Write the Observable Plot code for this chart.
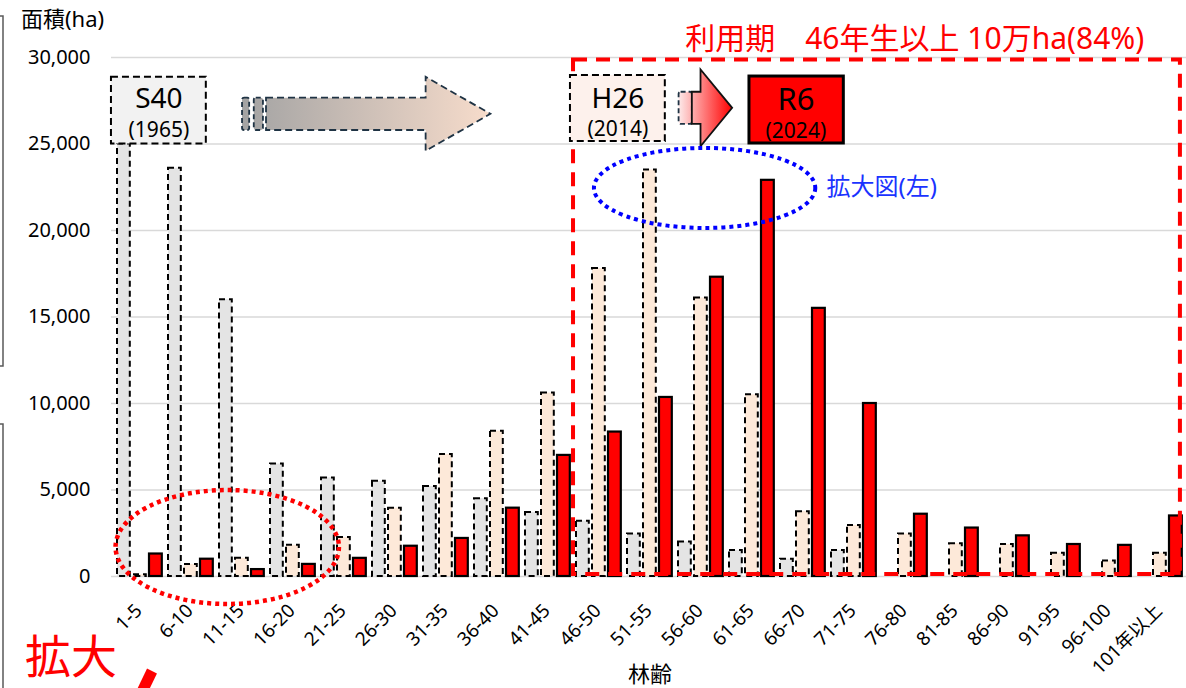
<!DOCTYPE html>
<html><head><meta charset="utf-8">
<script src="https://cdn.jsdelivr.net/npm/d3@7"></script>
<script src="https://cdn.jsdelivr.net/npm/@observablehq/plot@0.6"></script>
<style>
html,body{margin:0;padding:0;background:#fff;}
#chart{position:relative;width:1186px;height:688px;overflow:hidden;}
</style></head><body><div id="chart"></div>
<script>
const categories = ["1-5","6-10","11-15","16-20","21-25","26-30","31-35","36-40","41-45","46-50","51-55","56-60","61-65","66-70","71-75","76-80","81-85","86-90","91-95","96-100","101年以上"];
const s40 = [25000,23600,16000,6500,5700,5500,5200,4500,3700,3200,2450,2000,1500,1000,1500,0,0,0,0,0,0];
const h26 = [100,700,1050,1800,2250,3950,7050,8400,10600,17800,23500,16100,10500,3750,2950,2450,1900,1850,1350,900,1350];
const r6 = [1300,1000,400,700,1050,1750,2200,3950,7000,8350,10350,17300,22900,15500,10000,3600,2800,2350,1850,1800,3500];
const yTicks = [0,5000,10000,15000,20000,25000,30000];
const seriesLabels = [["S40","(1965)"],["H26","(2014)"],["R6","(2024)"]];
const headline = "利用期　46年生以上 10万ha(84%)";
const yTitle = "面積(ha)";
const xTitle = "林齢";
const zoomNote = "拡大図(左)";
const zoomWord = "拡大";

const FONT = "'Noto Sans','Noto Sans CJK JP',sans-serif";
const rows = (vals) => categories.map((c, i) => ({cat: c, value: vals[i]})).filter(d => d.value > 0);

const chart = Plot.plot({
  width: 1186, height: 688,
  marginLeft: 111, marginRight: 0, marginTop: 57, marginBottom: 112,
  style: {fontFamily: FONT, fontSize: "19px", color: "#000", background: "#fff"},
  x: {type: "band", domain: categories, padding: 0, label: null},
  y: {domain: [0, 30000], label: null},
  marks: [
    Plot.gridY(yTicks, {stroke: "#d9d9d9", strokeOpacity: 1, strokeWidth: 1.6}),
    Plot.barY(rows(s40), {x: "cat", y: "value", fill: "#e4e4e4", stroke: "#000", strokeWidth: 2, strokeDasharray: "6,4", insetLeft: 4, insetRight: 34.2}),
    Plot.barY(rows(h26), {x: "cat", y: "value", fill: "#fde9d9", stroke: "#000", strokeWidth: 2, strokeDasharray: "6,4", insetLeft: 20, insetRight: 18.2}),
    Plot.barY(rows(r6), {x: "cat", y: "value", fill: "#ff0000", stroke: "#000", strokeWidth: 2.2, insetLeft: 36, insetRight: 2.2}),
    Plot.axisY(yTicks, {tickSize: 0, tickPadding: 21, tickFormat: d3.format(","), fontSize: 20, label: null}),
    Plot.axisX({tickRotate: -45, tickSize: 0, tickPadding: 31, fontSize: 19, label: null})
  ]
});
document.getElementById("chart").appendChild(chart);

// annotations positioned through the chart's own scales
const sx = chart.scale("x"), sy = chart.scale("y");
const bw = sx.bandwidth, x0 = sx.apply(categories[0]);
const X = p => x0 + p * bw;
const Y = v => sy.apply(v);
const svg = d3.select(chart);
const defs = svg.append("defs");
const g1 = defs.append("linearGradient").attr("id", "ga1").attr("gradientUnits", "userSpaceOnUse")
  .attr("x1", X(2.53)).attr("x2", X(7.4)).attr("y1", 0).attr("y2", 0);
g1.append("stop").attr("offset", 0).attr("stop-color", "#a3a3a3");
g1.append("stop").attr("offset", 1).attr("stop-color", "#f7dccb");
const g2 = defs.append("linearGradient").attr("id", "ga2").attr("gradientUnits", "userSpaceOnUse")
  .attr("x1", X(11.09)).attr("x2", X(12.14)).attr("y1", 0).attr("y2", 0);
g2.append("stop").attr("offset", 0).attr("stop-color", "#fdeaea");
g2.append("stop").attr("offset", 1).attr("stop-color", "#ff0000");

const A = svg.append("g").attr("font-family", FONT).attr("text-anchor", "start");

// red dashed frame
A.append("rect").attr("x", X(9.02)).attr("y", Y(29850))
  .attr("width", X(20.92) - X(9.02)).attr("height", Y(115) - Y(29850))
  .attr("fill", "none").attr("stroke", "#ff0000").attr("stroke-width", 4).attr("stroke-dasharray", "14,9");
A.append("text").attr("x", X(15.72)).attr("y", Y(31150)).attr("text-anchor", "middle")
  .attr("dominant-baseline", "central").attr("font-size", 30).attr("fill", "#ff0000").text(headline);

// boxes
function box(p1, p2, v1, v2, fill, stroke, sw, dash) {
  A.append("rect").attr("x", X(p1)).attr("y", Y(v2)).attr("width", X(p2) - X(p1)).attr("height", Y(v1) - Y(v2))
    .attr("fill", fill).attr("stroke", stroke).attr("stroke-width", sw).attr("stroke-dasharray", dash);
}
function label(p, v, txt, fs) {
  A.append("text").attr("x", X(p)).attr("y", Y(v)).attr("text-anchor", "middle")
    .attr("dominant-baseline", "central").attr("font-size", fs).attr("fill", "#000").text(txt);
}
box(-0.04, 1.82, 25000, 28860, "#f2f2f2", "#000", 2, "7,4");
label(0.9, 27700, seriesLabels[0][0], 28); label(0.9, 25840, seriesLabels[0][1], 21);
box(8.96, 10.82, 25140, 28960, "#fdf1ec", "#000", 2, "7,4");
label(9.9, 27700, seriesLabels[1][0], 28); label(9.9, 25880, seriesLabels[1][1], 21);
box(12.47, 14.32, 25030, 28900, "#ff0000", "#000", 3, null);
label(13.39, 27620, seriesLabels[2][0], 31); label(13.39, 25780, seriesLabels[2][1], 21);

// arrows
function arrow(pa, pb, pt, c, h, H, fill, stroke, dash) {
  const pts = [[pa, c + h], [pb, c + h], [pb, c + H], [pt, c], [pb, c - H], [pb, c - h], [pa, c - h]];
  A.append("path").attr("d", "M" + pts.map(q => X(q[0]) + "," + Y(q[1])).join("L") + "Z")
    .attr("fill", fill).attr("stroke", stroke).attr("stroke-width", 1.8).attr("stroke-dasharray", dash);
}
function piece(pa, pb, c, h, fill, stroke) {
  A.append("rect").attr("x", X(pa)).attr("y", Y(c + h)).attr("width", X(pb) - X(pa)).attr("height", Y(c - h) - Y(c + h))
    .attr("fill", fill).attr("stroke", stroke).attr("stroke-width", 1.8).attr("stroke-dasharray", "5,3").attr("rx", 2);
}
piece(2.53, 2.67, 26715, 935, "url(#ga1)", "#1f3344");
piece(2.76, 2.94, 26715, 935, "url(#ga1)", "#1f3344");
arrow(3.0, 6.13, 7.40, 26715, 935, 2140, "url(#ga1)", "#1f3344", "7,4");
piece(11.09, 11.35, 27060, 930, "url(#ga2)", "#1f3344");
arrow(11.35, 11.52, 12.14, 27060, 930, 2220, "url(#ga2)", "#111", null);

// blue dotted ellipse
A.append("ellipse").attr("cx", X(11.6)).attr("cy", Y(22430)).attr("rx", 2.17 * bw).attr("ry", Y(22430 - 2312) - Y(22430))
  .attr("fill", "none").attr("stroke", "#0000ff").attr("stroke-width", 4).attr("stroke-dasharray", "4,4");
A.append("text").attr("x", X(13.99)).attr("y", Y(22600)).attr("text-anchor", "start").attr("dominant-baseline", "central")
  .attr("font-size", 24).attr("fill", "#1a33ff").text(zoomNote);
// red dotted ellipse
A.append("ellipse").attr("cx", X(2.24)).attr("cy", Y(1676)).attr("rx", 2.19 * bw).attr("ry", Y(1676 - 3295) - Y(1676))
  .attr("fill", "none").attr("stroke", "#ff0000").attr("stroke-width", 4.5).attr("stroke-dasharray", "4,4");

// outside texts
A.append("text").attr("x", 21).attr("y", 18).attr("text-anchor", "start").attr("dominant-baseline", "central").attr("font-size", 22).attr("fill", "#000").text(yTitle);
A.append("text").attr("x", 650).attr("y", 673).attr("text-anchor", "middle").attr("dominant-baseline", "central").attr("font-size", 22).attr("fill", "#000").text(xTitle);
A.append("text").attr("x", 25).attr("y", 655).attr("text-anchor", "start").attr("dominant-baseline", "central").attr("font-size", 46).attr("fill", "#ff0000").text(zoomWord);
A.append("line").attr("x1", 152).attr("y1", 671).attr("x2", 140).attr("y2", 696).attr("stroke", "#ff0000").attr("stroke-width", 11);
A.append("path").attr("d", "M0,16H3V366H0M0,424H3V688").attr("fill", "none").attr("stroke", "#595959").attr("stroke-width", 1.5);
</script></body></html>
